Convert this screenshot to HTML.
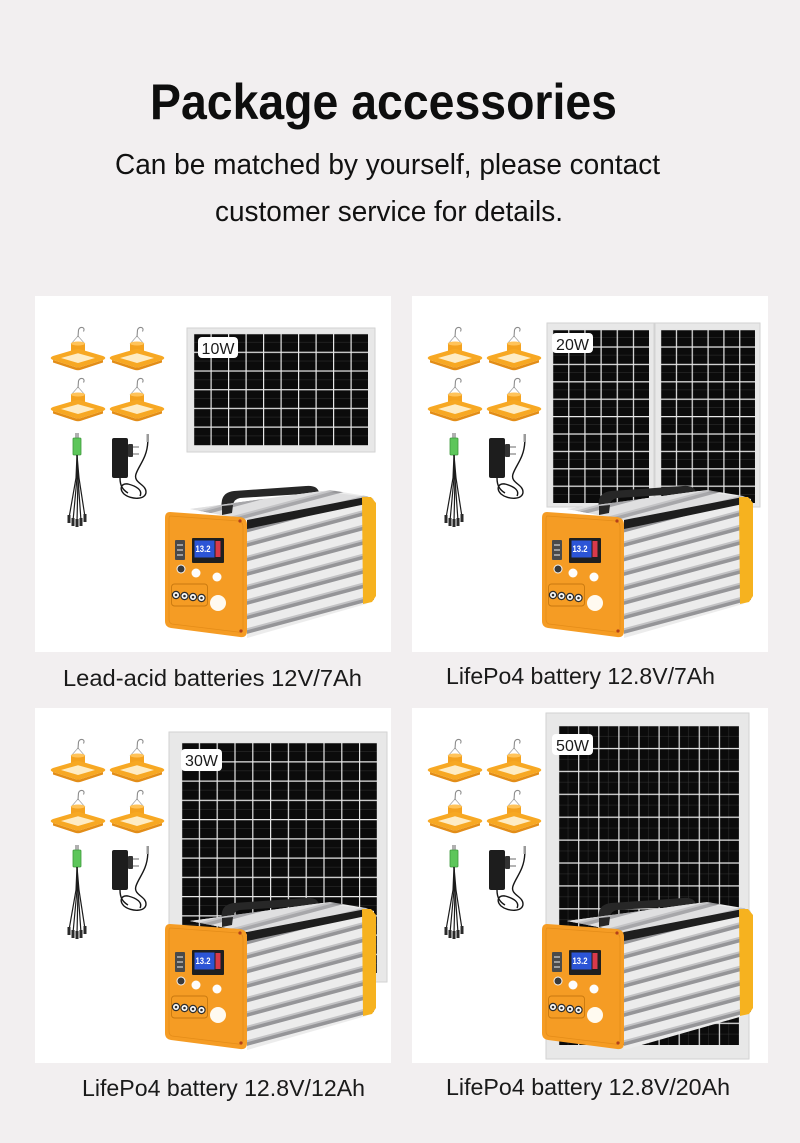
<!DOCTYPE html>
<html><head><meta charset="utf-8"><style>
html,body{margin:0;padding:0;background:#f2eff0;}
svg{display:block;}
text{font-family:"Liberation Sans",sans-serif;}
</style></head><body>
<svg width="800" height="1143" viewBox="0 0 800 1143" xmlns="http://www.w3.org/2000/svg">
<defs>
  <pattern id="stripes" patternUnits="userSpaceOnUse" width="20" height="14" patternTransform="rotate(-15 247 520)">
    <rect width="20" height="14" fill="#ececec"/>
    <rect y="8.5" width="20" height="2" fill="#c2c2c4"/>
    <rect y="10.5" width="20" height="3.5" fill="#959598"/>
  </pattern>
  <pattern id="p1" patternUnits="userSpaceOnUse" x="193" y="333" width="17.5" height="18.7">
    <rect width="17.5" height="18.7" fill="#0b0b0b"/>
    <path d="M0,9.35H17.5" stroke="#333" stroke-width="0.5"/>
    <path d="M0,0H17.5M0,0V18.7" stroke="#e6e6e6" stroke-width="2.4"/>
  </pattern>
  <pattern id="p2a" patternUnits="userSpaceOnUse" x="552" y="329" width="16.17" height="17.4">
    <rect width="16.17" height="17.4" fill="#0b0b0b"/>
    <path d="M0,8.7H16.17" stroke="#333" stroke-width="0.5"/>
    <path d="M0,0H16.17M0,0V17.4" stroke="#e6e6e6" stroke-width="2.4"/>
  </pattern>
  <pattern id="p2b" patternUnits="userSpaceOnUse" x="660" y="329" width="15.83" height="17.4">
    <rect width="15.83" height="17.4" fill="#0b0b0b"/>
    <path d="M0,8.7H15.83" stroke="#333" stroke-width="0.5"/>
    <path d="M0,0H15.83M0,0V17.4" stroke="#e6e6e6" stroke-width="2.4"/>
  </pattern>
  <pattern id="p3" patternUnits="userSpaceOnUse" x="181" y="742" width="17.8" height="19.25">
    <rect width="17.8" height="19.25" fill="#0b0b0b"/>
    <path d="M0,9.6H17.8" stroke="#333" stroke-width="0.5"/>
    <path d="M0,0H17.8M0,0V19.25" stroke="#e6e6e6" stroke-width="2.4"/>
  </pattern>
  <pattern id="p4" patternUnits="userSpaceOnUse" x="558" y="725" width="20.1" height="22.9">
    <rect width="20.1" height="22.9" fill="#0b0b0b"/>
    <path d="M0,11.45H20.1M10,0V22.9" stroke="#333" stroke-width="0.5"/>
    <path d="M0,0H20.1M0,0V22.9" stroke="#e6e6e6" stroke-width="2.4"/>
  </pattern>

  <g id="lamp">
    <path d="M21,17 L28,9 L35,17" fill="none" stroke="#a8a8a8" stroke-width="0.8"/>
    <path d="M28,10 L28.5,3 Q29.5,0 32.5,0.5 Q35,1.5 33.5,4.5" fill="none" stroke="#8c8c8c" stroke-width="1.1"/>
    <rect x="21" y="16" width="14" height="8" fill="#f4a21f"/>
    <ellipse cx="28" cy="16.5" rx="7" ry="2" fill="#ffc35a"/>
    <path d="M3,33 L25,40 Q28,41 31,40 L53,33 L53,35.5 L31,42.8 Q28,43.8 25,42.8 L3,35.5 Z" fill="#e28d18"/>
    <path d="M3,29 L25,22.5 Q28,21.6 31,22.5 L53,29 Q57.5,31 53,33 L31,40 Q28,41 25,40 L3,33 Q-1.5,31 3,29 Z" fill="#f7a823"/>
    <path d="M11,31 L28,26.2 L45,31 L28,36 Z" fill="#feecc4"/>
  </g>

  <g id="acc">
    <use href="#lamp" transform="translate(50,327)"/>
    <use href="#lamp" transform="translate(109,327)"/>
    <use href="#lamp" transform="translate(50,378)"/>
    <use href="#lamp" transform="translate(109,378)"/>
    <rect x="75" y="433" width="4" height="6" fill="#b0b0b0"/>
    <rect x="73" y="438" width="8" height="17" rx="1" fill="#5dc65a" stroke="#3d9a3b" stroke-width="0.8"/>
    <g fill="none" stroke="#1c1c1c" stroke-width="1.2">
      <path d="M77,455 L76,478 L69,518"/>
      <path d="M77,455 L77,478 L73,521"/>
      <path d="M77,455 L78,478 L77,522"/>
      <path d="M77,455 L78,478 L81,521"/>
      <path d="M77,455 L79,478 L85,517"/>
    </g>
    <g fill="#2a2a2a">
      <rect x="67.5" y="515" width="3" height="8"/>
      <rect x="71.5" y="518" width="3" height="8"/>
      <rect x="75.5" y="519" width="3" height="8"/>
      <rect x="79.5" y="518" width="3" height="8"/>
      <rect x="83.5" y="514" width="3" height="8"/>
    </g>
    <rect x="112" y="438" width="16" height="40" rx="2" fill="#1d1d1d"/>
    <rect x="128" y="444" width="5" height="13" rx="1" fill="#333"/>
    <path d="M133,447H139M133,454H139" stroke="#888" stroke-width="1.3"/>
    <rect x="146.5" y="434" width="2.5" height="8" fill="#9a9a9a"/>
    <path d="M147.8,442 C147,458 139,465 136,474 C133,483 146,484 146,492 C146,500 131,500 124,494 C119,489 121,483 128,484 C136,486 143,490 140,496" fill="none" stroke="#161616" stroke-width="1.4"/>
    <path d="M120,478 C120,486 123,490 128,493" fill="none" stroke="#161616" stroke-width="1.4"/>
  </g>

  <g id="bat">
    <path d="M220,515 L222,500 Q224,492 234,491 L306,486 Q318,485 319,493 L319,501 L309,502 L309,498 Q308,494 303,494 L240,498 Q234,499 233,505 L232,513 Z" fill="#272727"/>
    <polygon points="190,509 330,490 366,496 374,499 374,600 366,604 247,638 247,520" fill="url(#stripes)"/>
    <polygon points="190,509 322,491 366,497 247,520" fill="url(#stripes)"/>
    <polygon points="190,509 322,491 366,497 247,520" fill="#c9c9cb" opacity="0.35"/>
    <path d="M222,515 L232,513 L233,505 L222,506 Z" fill="#272727"/>
    <polygon points="247,520 366,497 366,504 247,529" fill="#1e1e1e"/>
    <polygon points="362,497 371,497 376,503 376,596 372,602 363,604" fill="#f6b21f"/>
    <path d="M170,512 L240,517 Q247,518 247,525 L247,631 Q247,638 240,637 L171,628 Q165,627 165,621 L165,518 Q165,512 170,512 Z" fill="#f59c24"/>
    <path d="M170,516 L239,521 Q243,522 243,527 L243,628 Q243,633 238,632 L172,624 Q169,623 169,619 L169,520 Q169,516 170,516 Z" fill="none" stroke="#e48c18" stroke-width="0.8"/>
    <circle cx="240" cy="521" r="1.6" fill="#b3401a"/>
    <circle cx="241" cy="631" r="1.6" fill="#b3401a"/>
    <rect x="175" y="540" width="10" height="20" rx="1" fill="#4a4a4a"/>
    <path d="M177,545H183M177,550H183M177,555H183" stroke="#cfcfcf" stroke-width="1.2"/>
    <rect x="192" y="538" width="32" height="25" rx="1" fill="#1f1f1f"/>
    <rect x="194.5" y="540.5" width="20" height="17" fill="#2c55d6"/>
    <rect x="215.5" y="541" width="5" height="16" fill="#d83a4a"/>
    <text x="195.5" y="552" font-size="9" font-weight="bold" fill="#ffffff" textLength="15" lengthAdjust="spacingAndGlyphs">13.2</text>
    <circle cx="181" cy="569" r="4" fill="#3a3a3a" stroke="#f3f3f3" stroke-width="1"/>
    <circle cx="196" cy="573" r="4.5" fill="#fdfdfd"/>
    <circle cx="217" cy="577" r="4.5" fill="#fdfdfd"/>
    <rect x="171.5" y="584" width="36" height="22" rx="3" fill="none" stroke="#c9790f" stroke-width="0.9"/>
    <g fill="#fafafa" stroke="#2e2e2e" stroke-width="1.2">
      <circle cx="176" cy="595" r="3.6"/>
      <circle cx="184.5" cy="596" r="3.6"/>
      <circle cx="193" cy="597" r="3.6"/>
      <circle cx="201.5" cy="598" r="3.6"/>
    </g>
    <g fill="#2e2e2e">
      <circle cx="176" cy="595" r="1.3"/>
      <circle cx="184.5" cy="596" r="1.3"/>
      <circle cx="193" cy="597" r="1.3"/>
      <circle cx="201.5" cy="598" r="1.3"/>
    </g>
    <circle cx="218" cy="603" r="8" fill="#fffaf0"/>
  </g>
</defs>

<rect width="800" height="1143" fill="#f2eff0"/>

<text x="150" y="119" font-size="50" font-weight="bold" fill="#0e0e0e" textLength="467" lengthAdjust="spacingAndGlyphs">Package accessories</text>
<text x="115" y="174" font-size="29" fill="#111" textLength="545" lengthAdjust="spacingAndGlyphs">Can be matched by yourself, please contact</text>
<text x="215" y="221" font-size="29" fill="#111" textLength="348" lengthAdjust="spacingAndGlyphs">customer service for details.</text>

<rect x="35" y="296" width="356" height="356" fill="#ffffff"/>
<rect x="412" y="296" width="356" height="356" fill="#ffffff"/>
<rect x="35" y="708" width="356" height="355" fill="#ffffff"/>
<rect x="412" y="708" width="356" height="355" fill="#ffffff"/>

<rect x="187" y="328" width="188" height="124" fill="#e8e8e8" stroke="#d2d2d2"/>
<rect x="193" y="333" width="175" height="113" fill="url(#p1)"/>
<rect x="198" y="337" width="40" height="21" rx="4" fill="#ffffff"/>
<text x="218" y="354" font-size="16" fill="#1a1a1a" text-anchor="middle">10W</text>

<rect x="547" y="323" width="107" height="184" fill="#e8e8e8" stroke="#d2d2d2"/>
<rect x="552" y="329" width="97" height="174" fill="url(#p2a)"/>
<rect x="655" y="323" width="105" height="184" fill="#e8e8e8" stroke="#d2d2d2"/>
<rect x="660" y="329" width="95" height="174" fill="url(#p2b)"/>
<rect x="552" y="333" width="41" height="20" rx="4" fill="#ffffff"/>
<text x="572.5" y="350" font-size="16" fill="#1a1a1a" text-anchor="middle">20W</text>

<rect x="169" y="732" width="218" height="250" fill="#e8e8e8" stroke="#d2d2d2"/>
<rect x="181" y="742" width="196" height="231" fill="url(#p3)"/>
<rect x="181" y="749" width="41" height="22" rx="4" fill="#ffffff"/>
<text x="201.5" y="766" font-size="16" fill="#1a1a1a" text-anchor="middle">30W</text>

<rect x="546" y="713" width="203" height="346" fill="#e8e8e8" stroke="#d2d2d2"/>
<rect x="558" y="725" width="181" height="320" fill="url(#p4)"/>
<rect x="552" y="734" width="41" height="21" rx="4" fill="#ffffff"/>
<text x="572.5" y="751" font-size="16" fill="#1a1a1a" text-anchor="middle">50W</text>

<use href="#acc"/>
<use href="#acc" transform="translate(377,0)"/>
<use href="#acc" transform="translate(0,412)"/>
<use href="#acc" transform="translate(377,412)"/>

<use href="#bat"/>
<use href="#bat" transform="translate(377,0)"/>
<use href="#bat" transform="translate(0,412)"/>
<use href="#bat" transform="translate(377,412)"/>

<text x="63" y="686" font-size="23" fill="#1a1a1a" textLength="299" lengthAdjust="spacingAndGlyphs">Lead-acid batteries 12V/7Ah</text>
<text x="446" y="684" font-size="23" fill="#1a1a1a" textLength="269" lengthAdjust="spacingAndGlyphs">LifePo4 battery 12.8V/7Ah</text>
<text x="82" y="1096" font-size="23" fill="#1a1a1a" textLength="283" lengthAdjust="spacingAndGlyphs">LifePo4 battery 12.8V/12Ah</text>
<text x="446" y="1095" font-size="23" fill="#1a1a1a" textLength="284" lengthAdjust="spacingAndGlyphs">LifePo4 battery 12.8V/20Ah</text>
</svg>
</body></html>
